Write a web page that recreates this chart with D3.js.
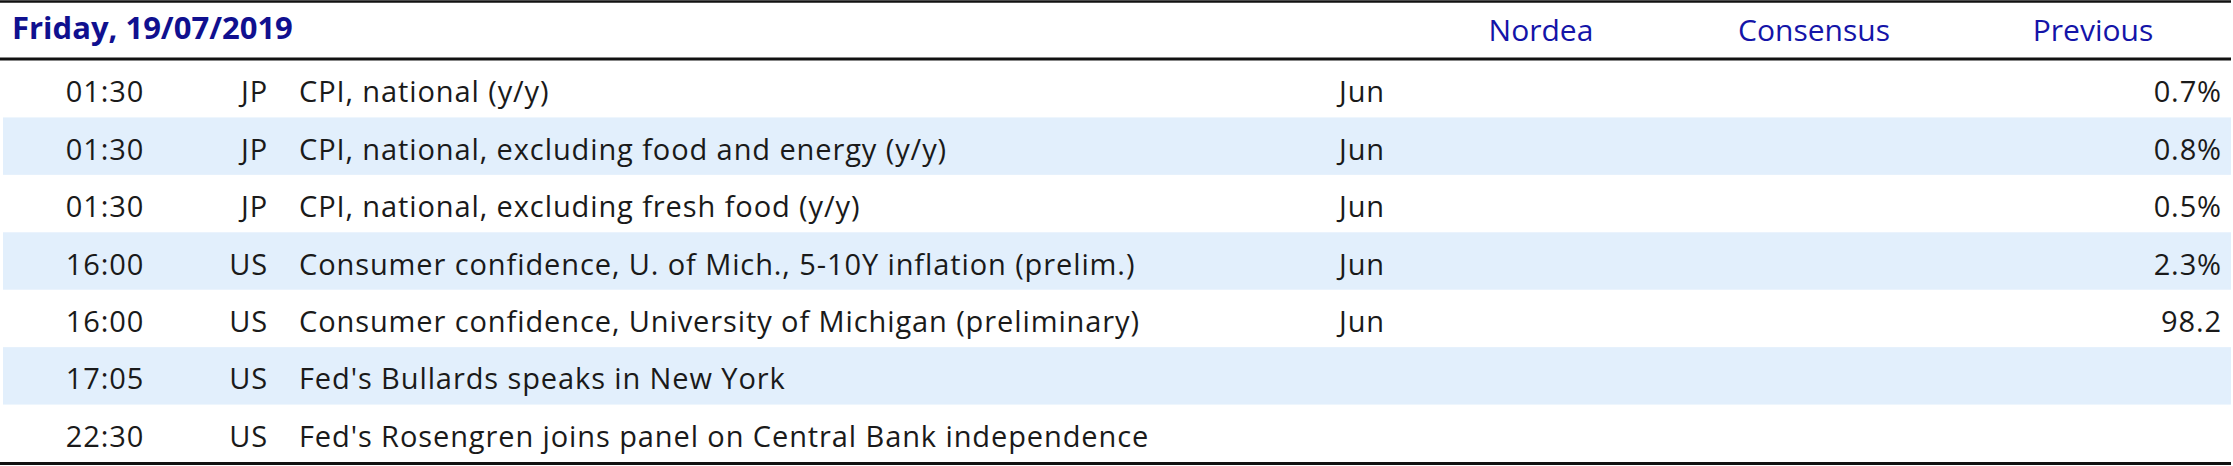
<!DOCTYPE html>
<html lang="en">
<head>
  <meta charset="UTF-8">
  <title>Calendar - Friday, 19/07/2019</title>
  <script src="https://d3js.org/d3.v7.min.js"></script>
  <style>
    body { margin: 0; background: #fff; }
    svg text { font-family: "Open Sans", "Noto Sans", sans-serif; }
    .cell { font-size: 29px; letter-spacing: 0.9px; fill: #1a1a1a; }
    .title { font-size: 31px; font-weight: bold; fill: #10108f; }
    .head { font-size: 30px; fill: #1414a8; }
  </style>
</head>
<body>
  <svg width="2233" height="466"></svg>

  <script>
    // table content
    const dateLabel = 'Friday, 19/07/2019';
    const headLabels = ['Nordea', 'Consensus', 'Previous'];
    const times = ['01:30', '01:30', '01:30', '16:00', '16:00', '17:05', '22:30'];
    const countries = ['JP', 'JP', 'JP', 'US', 'US', 'US', 'US'];
    const events = [
      'CPI, national (y/y)',
      'CPI, national, excluding food and energy (y/y)',
      'CPI, national, excluding fresh food (y/y)',
      'Consumer confidence, U. of Mich., 5-10Y inflation (prelim.)',
      'Consumer confidence, University of Michigan (preliminary)',
      "Fed's Bullards speaks in New York",
      "Fed's Rosengren joins panel on Central Bank independence"
    ];
    const periods = ['Jun', 'Jun', 'Jun', 'Jun', 'Jun', '', ''];
    const nordea = ['', '', '', '', '', '', ''];
    const consensus = ['', '', '', '', '', '', ''];
    const previous = ['0.7%', '0.8%', '0.5%', '2.3%', '98.2', '', ''];

    const svg = d3.select('svg');

    const rows = times.map((t, i) => ({
      i, time: t, ctry: countries[i], event: events[i], period: periods[i],
      nordea: nordea[i], consensus: consensus[i], previous: previous[i]
    }));

    const y = d3.scaleBand().domain(d3.range(rows.length)).range([60, 462]);

    // alternating row shading
    svg.selectAll('rect.band')
      .data(rows.filter(d => d.i % 2 === 1))
      .enter().append('rect')
      .attr('class', 'band')
      .attr('x', 3)
      .attr('width', 2228)
      .attr('y', d => y(d.i))
      .attr('height', y.bandwidth())
      .attr('fill', '#e2effc');

    // rules
    const rule = (yy, w) => svg.append('line')
      .attr('x1', 0).attr('x2', 2231)
      .attr('y1', yy).attr('y2', yy)
      .attr('stroke', '#111').attr('stroke-width', w);
    rule(1.5, 2.5);
    rule(59, 3);
    rule(463.5, 3);

    // header
    svg.append('text').attr('class', 'title')
      .attr('x', 12).attr('y', 39)
      .text(dateLabel);

    const headX = [1541, 1814, 2093];
    svg.selectAll('text.head')
      .data(headLabels)
      .enter().append('text')
      .attr('class', 'head')
      .attr('x', (d, i) => headX[i])
      .attr('y', 41)
      .attr('text-anchor', 'middle')
      .text(d => d);

    // columns: key, x, anchor
    const cols = [
      { key: 'time', x: 105, anchor: 'middle' },
      { key: 'ctry', x: 268, anchor: 'end' },
      { key: 'event', x: 299, anchor: 'start' },
      { key: 'period', x: 1339, anchor: 'start' },
      { key: 'nordea', x: 1541, anchor: 'middle' },
      { key: 'consensus', x: 1814, anchor: 'middle' },
      { key: 'previous', x: 2222, anchor: 'end' }
    ];

    const g = svg.selectAll('g.row')
      .data(rows)
      .enter().append('g')
      .attr('class', 'row')
      .attr('transform', d => `translate(0,${y(d.i) + y.bandwidth() / 2})`);

    cols.forEach(c => {
      g.append('text')
        .attr('class', 'cell')
        .attr('x', c.x)
        .attr('dy', '0.47em')
        .attr('text-anchor', c.anchor)
        .text(d => d[c.key]);
    });
  </script>
</body>
</html>
